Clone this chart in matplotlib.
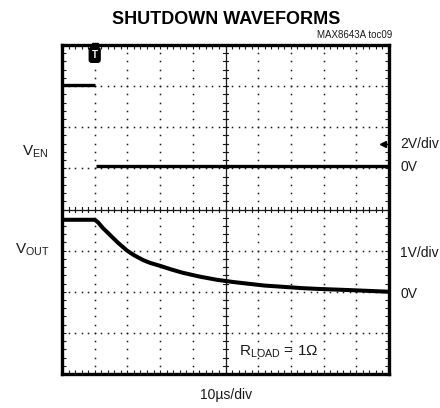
import numpy as np
import matplotlib
matplotlib.use("Agg")
import matplotlib.pyplot as plt
from matplotlib.ticker import MultipleLocator

plt.rcParams['font.family'] = ['Liberation Sans Narrow', 'Liberation Sans', 'DejaVu Sans']
plt.rcParams['mathtext.fontset'] = 'custom'
plt.rcParams['mathtext.rm'] = 'Liberation Sans'

# scope traces, time in us (10us/div)
ven_t = [0, 10.0, 10.0, 10.4, 100]
ven_v = [3.94, 3.94, np.nan, 0.0, 0.0]          # 2V/div
vout_t = [0, 10.0, 11.0, 12.5, 14.7, 17.0, 19.9, 22.0, 24.8, 27.0, 30.0,
          33.5, 37.0, 42.0, 47.4, 52.0, 57.5, 62.0, 67.6, 73.0, 78.0, 88.0, 100]
vout_v = [1.78, 1.78, 1.72, 1.58, 1.41, 1.23, 1.03, 0.92, 0.80, 0.73, 0.66,
          0.57, 0.49, 0.40, 0.32, 0.27, 0.22, 0.18, 0.15, 0.12, 0.10, 0.07, 0.03]  # 1V/div
ven_zero = 5.06   # divisions from bottom
vout_zero = 1.97
ven_scale = 2.0
vout_scale = 1.0

ink = '#1a1a1a'
fig = plt.figure(figsize=(4.4, 4.08), dpi=100)
ax = fig.add_axes([62/440, 1-374/408, 327/440, 329/408])
ax.set_xlim(0, 100)
ax.set_ylim(0, 8)

# graticule dots
for gx in range(10, 100, 10):
    ys = np.arange(0, 8.01, 0.2)
    ax.plot(np.full_like(ys, gx), ys, ls='none', marker='s', ms=1.1, mew=0, color=ink)
for gy in range(1, 8):
    xs = np.arange(0, 100.1, 2)
    ax.plot(xs, np.full_like(xs, gy), ls='none', marker='s', ms=1.1, mew=0, color=ink)

# centre axes with cross ticks
ax.axvline(50, color=ink, lw=0.9)
ax.axhline(4, color=ink, lw=0.9)
for yy in np.arange(0, 8.01, 0.2):
    ax.plot([49.1, 50.9], [yy, yy], color=ink, lw=0.8)
for xx in np.arange(0, 100.1, 2):
    ax.plot([xx, xx], [3.93, 4.07], color=ink, lw=0.8)

ax.xaxis.set_major_locator(MultipleLocator(10))
ax.xaxis.set_minor_locator(MultipleLocator(2))
ax.yaxis.set_major_locator(MultipleLocator(1))
ax.yaxis.set_minor_locator(MultipleLocator(0.2))
ax.tick_params(which='both', direction='in', length=3, width=0.8, color=ink,
               top=True, right=True, labelbottom=False, labelleft=False)
for s in ax.spines.values():
    s.set_linewidth(2.4)
    s.set_color('black')

ven_y = ven_zero + np.array(ven_v) / ven_scale
vout_y = vout_zero + np.array(vout_v) / vout_scale
ax.plot(ven_t, ven_y, color='black', lw=2.4, solid_capstyle='butt')
ax.plot(vout_t, vout_y, color='black', lw=2.9, solid_capstyle='butt', solid_joinstyle='round')

# trigger marker and level arrow
ax.plot([10], [7.97], marker='v', ms=4, color='black', clip_on=False)
ax.text(10, 7.76, 'T', color='white', fontsize=7, fontweight='bold', ha='center', va='center',
        bbox=dict(boxstyle='round,pad=0.25', fc='black', ec='black'))
ax.plot([98.3], [5.6], marker='<', ms=4, color='black')
ax.plot([98.3, 99.6], [5.6, 5.6], color='black', lw=1)

# labels
def T(px, py, s, **kw):
    kw.setdefault('color', ink)
    fig.text(px/440, 1-py/408, s, **kw)

T(226, 19, 'SHUTDOWN WAVEFORMS', fontsize=13, fontweight='bold', ha='center', va='center', color='black')
T(392, 35, 'MAX8643A toc09', fontsize=7, ha='right', va='center')
T(22, 152, r'V$_\mathregular{EN}$', fontsize=11, ha='left', va='center')
T(15, 250, r'V$_\mathregular{OUT}$', fontsize=11, ha='left', va='center')
T(400, 144, '2V/div', fontsize=10, ha='left', va='center')
T(400, 167, '0V', fontsize=10, ha='left', va='center')
T(400, 253, '1V/div', fontsize=10, ha='left', va='center')
T(400, 294, '0V', fontsize=10, ha='left', va='center')
T(239, 352, r'R$_\mathregular{LOAD}$ = 1$\Omega$', fontsize=11, ha='left', va='center')
T(226, 395, '10\u00b5s/div', fontsize=10, ha='center', va='center')

fig.savefig('out.png', dpi=100)
